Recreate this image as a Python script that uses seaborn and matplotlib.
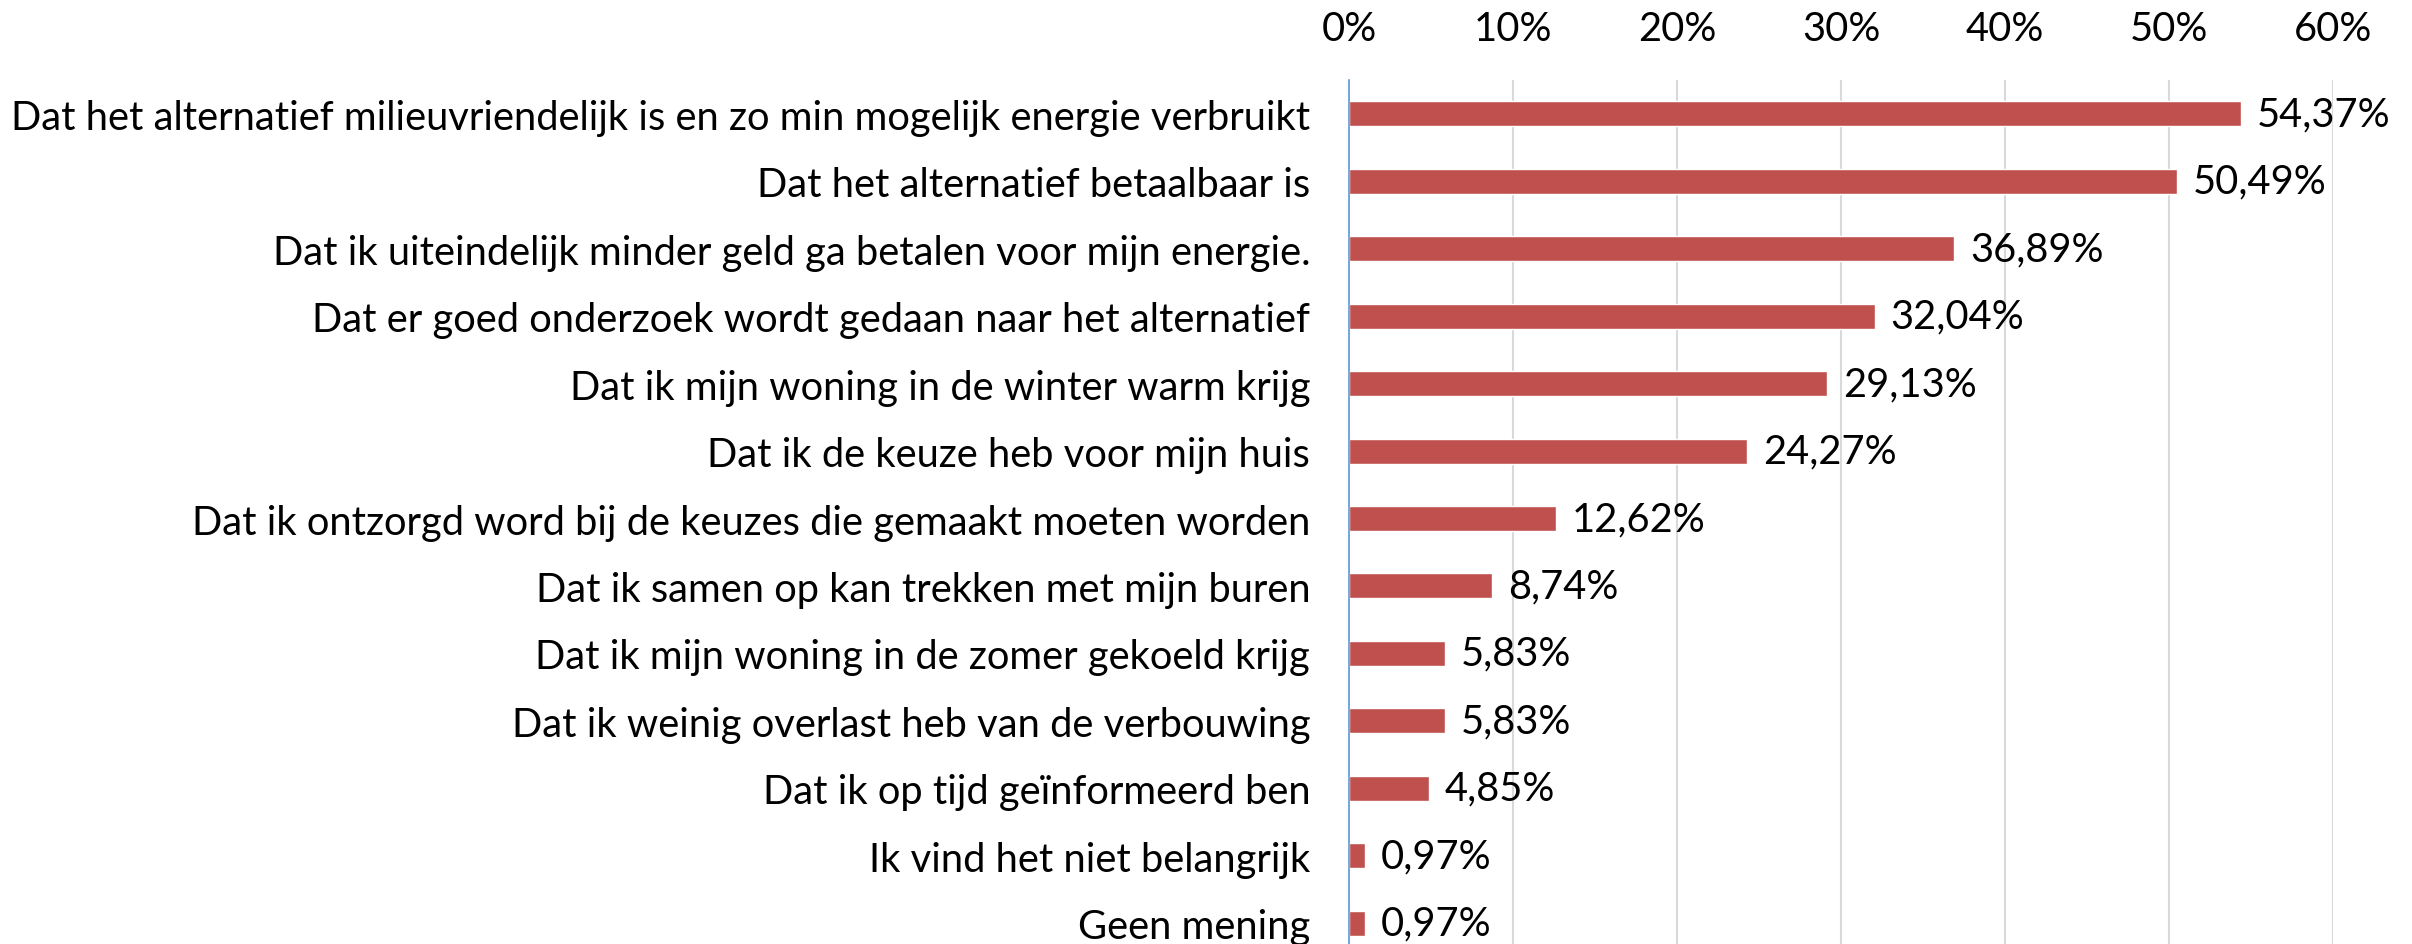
import matplotlib
matplotlib.use("Agg")
import matplotlib.pyplot as plt
from matplotlib import font_manager
from matplotlib.ticker import PercentFormatter
import seaborn as sns
import pandas as pd

categories = [
    "Dat het alternatief milieuvriendelijk is en zo min mogelijk energie verbruikt",
    "Dat het alternatief betaalbaar is",
    "Dat ik uiteindelijk minder geld ga betalen voor mijn energie.",
    "Dat er goed onderzoek wordt gedaan naar het alternatief",
    "Dat ik mijn woning in de winter warm krijg",
    "Dat ik de keuze heb voor mijn huis",
    "Dat ik ontzorgd word bij de keuzes die gemaakt moeten worden",
    "Dat ik samen op kan trekken met mijn buren",
    "Dat ik mijn woning in de zomer gekoeld krijg",
    "Dat ik weinig overlast heb van de verbouwing",
    "Dat ik op tijd geïnformeerd ben",
    "Ik vind het niet belangrijk",
    "Geen mening",
]
values = [0.5437, 0.5049, 0.3689, 0.3204, 0.2913, 0.2427, 0.1262,
          0.0874, 0.0583, 0.0583, 0.0485, 0.0097, 0.0097]
x_ticks = [0, 0.1, 0.2, 0.3, 0.4, 0.5, 0.6]

df = pd.DataFrame({"item": categories, "share": values})

sns.set_theme(style="white")
names = {f.name for f in font_manager.fontManager.ttflist}
fam = "Liberation Sans Narrow" if "Liberation Sans Narrow" in names else "Lato"
plt.rcParams["font.family"] = [fam, "DejaVu Sans"]

fig = plt.figure(figsize=(24.12, 9.45), dpi=100)
ax = fig.add_axes([0.5593, -0.0138, 0.4080, 0.9281])

sns.barplot(data=df, x="share", y="item", orient="h", color="#C0504D",
            width=0.37, saturation=1, ax=ax)

ax.set_xlim(0, 0.6)
ax.set_xticks(x_ticks)
ax.xaxis.set_major_formatter(PercentFormatter(xmax=1, decimals=0))
ax.xaxis.tick_top()
ax.set_xlabel("")
ax.set_ylabel("")
ax.grid(axis="x", color="#D9D9D9", linewidth=1.5)
ax.set_axisbelow(True)
for s in ["top", "right", "bottom"]:
    ax.spines[s].set_visible(False)
ax.spines["left"].set_color("#5B9BD5")
ax.spines["left"].set_linewidth(1.2)
ax.tick_params(axis="y", length=0, pad=28)
ax.tick_params(axis="x", length=0, pad=24)

fs = 30
texts = []
for i, v in enumerate(values):
    lab = f"{v*100:.2f}%".replace(".", ",")
    texts.append(ax.annotate(lab, (v, i), xytext=(11.5, 0), textcoords="offset points",
                             va="center", ha="left", color="black"))

# fit font size so the longest label spans the same width as in the source
def apply(size):
    for t in ax.get_yticklabels() + ax.get_xticklabels() + texts:
        t.set_fontsize(size)
        t.set_color("black")

apply(fs)
fig.canvas.draw()
r = fig.canvas.get_renderer()
w = ax.get_yticklabels()[0].get_window_extent(r).width
fs = fs * 1297 / w
apply(fs)

fig.savefig("out.png", dpi=100, facecolor="white")
